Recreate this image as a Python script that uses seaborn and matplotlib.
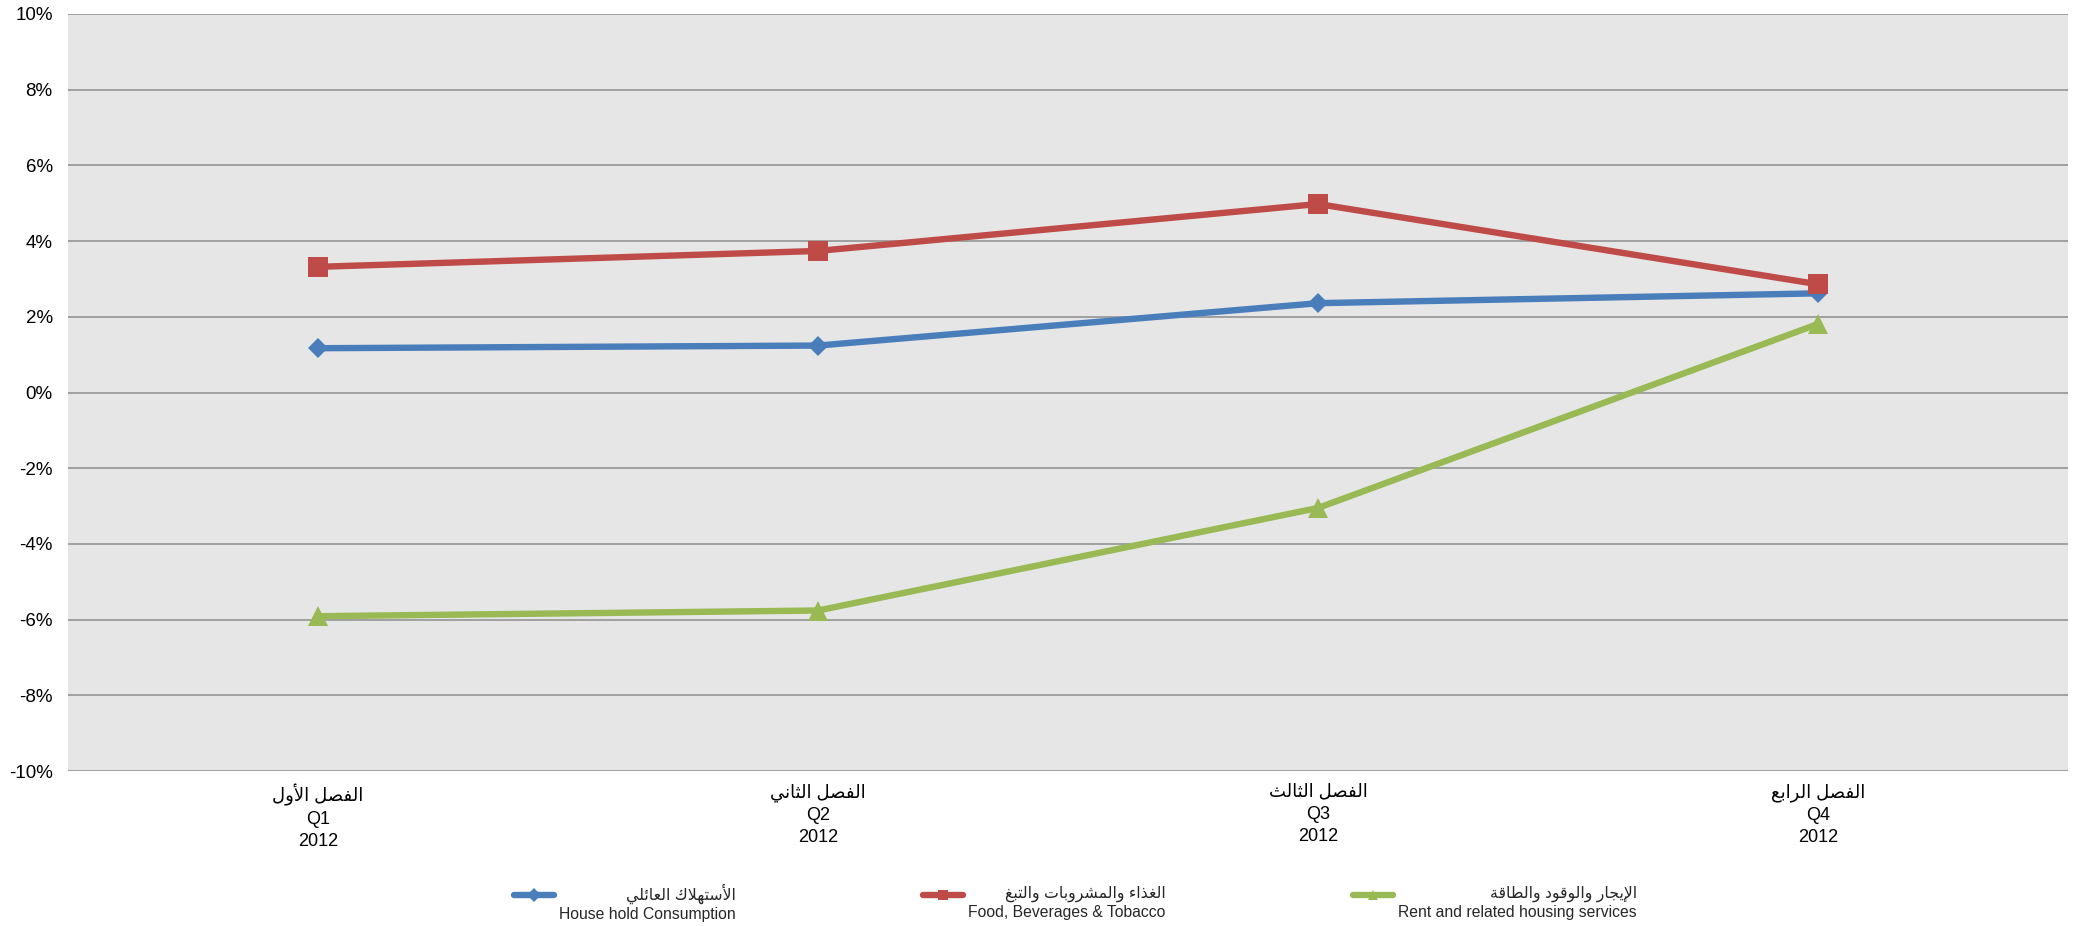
import seaborn as sns
import matplotlib.pyplot as plt
from matplotlib.legend_handler import HandlerLine2D
import numpy as np
import pandas as pd

# quarterly growth rates (%)
quarters = ['Q1', 'Q2', 'Q3', 'Q4']
quarters_ar = ['الفصل الأول', 'الفصل الثاني', 'الفصل الثالث', 'الفصل الرابع']
years = ['2012', '2012', '2012', '2012']

series_en = ['House hold Consumption', 'Food, Beverages & Tobacco', 'Rent and related housing services']
series_ar = ['الأستهلاك العائلي', 'الغذاء والمشروبات والتبغ', 'الإيجار والوقود والطاقة']

household = [1.17, 1.24, 2.36, 2.62]
food = [3.32, 3.74, 4.98, 2.86]
rent = [-5.91, -5.76, -3.05, 1.81]

colors = ['#4A7EBB', '#BE4B48', '#98B954']
marker_list = ['D', 's', '^']

# matplotlib has no arabic shaping, so map letters to their contextual
# presentation forms and reverse them for display
FORMS = {  # isolated, final, initial, medial
    'ء': ('\uFE80', None, None, None),
    'أ': ('\uFE83', '\uFE84', None, None),
    'إ': ('\uFE87', '\uFE88', None, None),
    'ئ': ('\uFE89', '\uFE8A', '\uFE8B', '\uFE8C'),
    'ا': ('\uFE8D', '\uFE8E', None, None),
    'ب': ('\uFE8F', '\uFE90', '\uFE91', '\uFE92'),
    'ة': ('\uFE93', '\uFE94', None, None),
    'ت': ('\uFE95', '\uFE96', '\uFE97', '\uFE98'),
    'ث': ('\uFE99', '\uFE9A', '\uFE9B', '\uFE9C'),
    'ج': ('\uFE9D', '\uFE9E', '\uFE9F', '\uFEA0'),
    'د': ('\uFEA9', '\uFEAA', None, None),
    'ذ': ('\uFEAB', '\uFEAC', None, None),
    'ر': ('\uFEAD', '\uFEAE', None, None),
    'س': ('\uFEB1', '\uFEB2', '\uFEB3', '\uFEB4'),
    'ش': ('\uFEB5', '\uFEB6', '\uFEB7', '\uFEB8'),
    'ص': ('\uFEB9', '\uFEBA', '\uFEBB', '\uFEBC'),
    'ط': ('\uFEC1', '\uFEC2', '\uFEC3', '\uFEC4'),
    'ع': ('\uFEC9', '\uFECA', '\uFECB', '\uFECC'),
    'غ': ('\uFECD', '\uFECE', '\uFECF', '\uFED0'),
    'ف': ('\uFED1', '\uFED2', '\uFED3', '\uFED4'),
    'ق': ('\uFED5', '\uFED6', '\uFED7', '\uFED8'),
    'ك': ('\uFED9', '\uFEDA', '\uFEDB', '\uFEDC'),
    'ل': ('\uFEDD', '\uFEDE', '\uFEDF', '\uFEE0'),
    'م': ('\uFEE1', '\uFEE2', '\uFEE3', '\uFEE4'),
    'ن': ('\uFEE5', '\uFEE6', '\uFEE7', '\uFEE8'),
    'ه': ('\uFEE9', '\uFEEA', '\uFEEB', '\uFEEC'),
    'و': ('\uFEED', '\uFEEE', None, None),
    'ي': ('\uFEF1', '\uFEF2', '\uFEF3', '\uFEF4'),
}
LAM_ALEF = {'ا': ('\uFEFB', '\uFEFC'), 'أ': ('\uFEF7', '\uFEF8'),
            'إ': ('\uFEF9', '\uFEFA'), 'آ': ('\uFEF5', '\uFEF6')}


def shape_ar(text):
    toks = []
    i = 0
    while i < len(text):
        if text[i] == 'ل' and i + 1 < len(text) and text[i + 1] in LAM_ALEF:
            toks.append(('LA', text[i + 1]))
            i += 2
        else:
            toks.append((text[i], None))
            i += 1

    def joins(t):
        return t[0] == 'LA' or (t[0] in FORMS and FORMS[t[0]][1] is not None)

    def joins_next(t):
        return t[0] in FORMS and FORMS[t[0]][2] is not None

    out = []
    for k, t in enumerate(toks):
        p = k > 0 and joins_next(toks[k - 1]) and joins(t)
        if t[0] == 'LA':
            out.append(LAM_ALEF[t[1]][1 if p else 0])
            continue
        if t[0] not in FORMS:
            out.append(t[0])
            continue
        n = joins_next(t) and k + 1 < len(toks) and joins(toks[k + 1])
        iso, fin, ini, med = FORMS[t[0]]
        if p and n:
            out.append(med)
        elif p:
            out.append(fin)
        elif n:
            out.append(ini)
        else:
            out.append(iso)
    return ''.join(reversed(out))


class TopLineHandler(HandlerLine2D):
    # put the legend line next to the first (arabic) line of the label
    def create_artists(self, legend, orig_handle, xdescent, ydescent, width, height, fontsize, trans):
        arts = super().create_artists(legend, orig_handle, xdescent, ydescent, width, height, fontsize, trans)
        for a in arts:
            a.set_ydata(np.asarray(a.get_ydata()) + 0.55 * fontsize)
            a.set_markersize(7)
        return arts


df = pd.DataFrame({
    'quarter': quarters * 3,
    'value': household + food + rent,
    'series': [series_en[0]] * 4 + [series_en[1]] * 4 + [series_en[2]] * 4,
})

sns.set_theme(style='darkgrid', rc={
    'axes.facecolor': '#E6E6E6',
    'grid.color': '#8C8C8C',
    'grid.linewidth': 1.1,
})
plt.rcParams['font.family'] = ['Liberation Sans', 'DejaVu Sans']

fig, ax = plt.subplots(figsize=(20.8, 9.26), dpi=100)
fig.subplots_adjust(left=68 / 2080, right=2068 / 2080, top=1 - 14 / 926, bottom=1 - 771 / 926)

sns.lineplot(
    data=df, x='quarter', y='value', hue='series', style='series',
    palette=dict(zip(series_en, colors)),
    markers=dict(zip(series_en, marker_list)),
    dashes=False, linewidth=4.6, markersize=14, markeredgewidth=0,
    legend=False, ax=ax,
)
for line, m in zip(ax.lines, marker_list):
    if m == 'D':
        line.set_markersize(10.5)

ax.set_xlim(-0.5, 3.5)
ax.set_ylim(-10, 10)
ax.set_yticks(range(-10, 11, 2))
ax.set_yticklabels([f'{v}%' for v in range(-10, 11, 2)])
ax.set_xticks(range(len(quarters)))
ax.set_xticklabels([f'{shape_ar(a)}\n{q}\n{y}' for a, q, y in zip(quarters_ar, quarters, years)],
                   linespacing=1.4)
ax.grid(axis='x', visible=False)
ax.tick_params(axis='y', length=0, pad=11, labelsize=13.5, colors='black')
ax.tick_params(axis='x', length=0, pad=9, labelsize=13, colors='black')
ax.set_xlabel('')
ax.set_ylabel('')
for s in ax.spines.values():
    s.set_visible(False)

labels = [f'{shape_ar(a)}\n{e}' for a, e in zip(series_ar, series_en)]
leg = fig.legend(
    handles=ax.lines[:3], labels=labels, ncol=3, frameon=False,
    loc='center', bbox_to_anchor=(0.517, 0.025), fontsize=11.3,
    handlelength=2.55, handletextpad=0.35, columnspacing=11.9,
    handler_map={type(ax.lines[0]): TopLineHandler()},
)
for t in leg.get_texts():
    t.set_multialignment('right')

fig.savefig('out.png', dpi=100)
